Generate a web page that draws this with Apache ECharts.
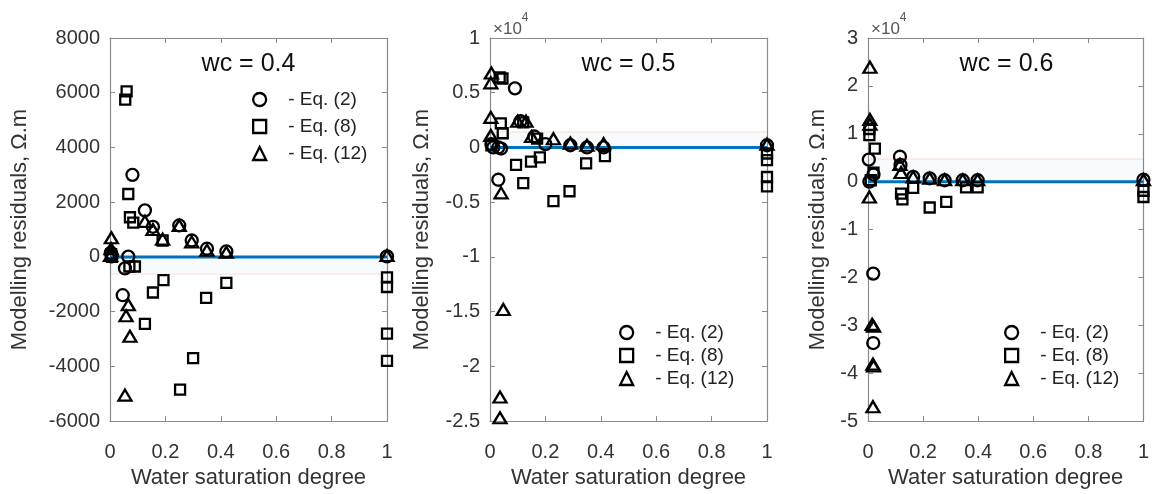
<!DOCTYPE html>
<html>
<head>
<meta charset="utf-8">
<script src="https://cdn.jsdelivr.net/npm/echarts@6/dist/echarts.min.js"></script>
<style>
html,body{margin:0;padding:0;background:#ffffff;}
#chart{width:1152px;height:494px;}
</style>
</head>
<body>
<div id="chart"></div>
<script>
// ---------------- data ----------------
const panelTitles = ['wc = 0.4', 'wc = 0.5', 'wc = 0.6'];
const eqNames = ['Eq. (2)', 'Eq. (8)', 'Eq. (12)'];
const xAxisName = 'Water saturation degree';
const yAxisName = 'Modelling residuals, \u03A9.m';
const xTickValues = [0, 0.2, 0.4, 0.6, 0.8, 1];
const yMinValues = [-6000, -25000, -50000];
const yMaxValues = [8000, 10000, 30000];
const yStepValues = [2000, 5000, 10000];
const yLabelDivisors = [1, 10000, 10000];
const zeroLine = [[0, 0], [1, 0]];
const bandEdges = [-600, 1400, 4800];

// wc = 0.4 : [water saturation, residual Ω.m]
const wc04_eq2 = [[0.003,150],[0.006,20],[0.066,10],[0.054,-420],[0.046,-1400],[0.081,3000],[0.126,1700],[0.155,1100],[0.25,1150],[0.295,600],[0.35,300],[0.42,200],[1,20]];
const wc04_eq8 = [[0.004,100],[0.007,0],[0.06,6050],[0.055,5750],[0.066,2300],[0.072,1450],[0.084,1250],[0.19,600],[0.07,-350],[0.09,-350],[0.193,-850],[0.155,-1300],[0.42,-950],[0.347,-1500],[0.126,-2450],[0.30,-3700],[0.253,-4850],[1,-750],[1,-1100],[1,-2800],[1,-3800]];
const wc04_eq12 = [[0.002,50],[0.004,300],[0.005,700],[0.126,1300],[0.155,1000],[0.19,650],[0.25,1150],[0.295,550],[0.35,250],[0.42,170],[0.066,-1750],[0.058,-2150],[0.072,-2900],[0.054,-5050],[1,50]];

// wc = 0.5
const wc05_eq2 = [[0.005,300],[0.012,0],[0.03,0],[0.04,-100],[0.09,5400],[0.11,2400],[0.16,1000],[0.2,300],[0.29,200],[0.35,0],[0.41,0],[0.03,-2950],[1,200]];
const wc05_eq8 = [[0.035,6400],[0.045,6300],[0.039,2200],[0.046,1300],[0.005,200],[0.12,2300],[0.17,800],[0.094,-1600],[0.148,-1300],[0.18,-900],[0.347,-1450],[0.415,-800],[0.12,-3250],[0.229,-4900],[0.287,-4000],[1,-550],[1,-1150],[1,-2700],[1,-3550]];
const wc05_eq12 = [[0.005,6800],[0.003,5900],[0.003,2750],[0.003,1100],[0.1,2400],[0.13,2400],[0.15,1000],[0.229,800],[0.29,400],[0.35,200],[0.41,350],[0.04,-4150],[0.048,-14800],[0.036,-22800],[0.036,-24700],[1,300]];

// wc = 0.6
const wc06_eq2 = [[0.003,4600],[0.005,0],[0.02,1500],[0.116,5200],[0.118,3500],[0.164,1000],[0.224,700],[0.278,300],[0.344,300],[0.398,300],[0.019,-19200],[0.019,-33700],[1,400]];
const wc06_eq8 = [[0.005,11000],[0.005,9700],[0.025,6900],[0.02,1900],[0.01,300],[0.12,-2500],[0.125,-3700],[0.164,-1300],[0.224,-5400],[0.284,-4200],[0.356,-1200],[0.398,-1200],[1,-1900],[1,-3200]];
const wc06_eq12 = [[0.007,23900],[0.007,13000],[0.007,12000],[0.005,-3200],[0.116,3600],[0.12,1900],[0.164,1000],[0.224,700],[0.278,400],[0.344,400],[0.398,400],[0.015,-29800],[0.02,-30200],[0.018,-38100],[0.02,-38500],[0.018,-47000],[1,400]];

const panelData = [
  [wc04_eq2, wc04_eq8, wc04_eq12],
  [wc05_eq2, wc05_eq8, wc05_eq12],
  [wc06_eq2, wc06_eq8, wc06_eq12]
];

// ---------------- layout & style ----------------
const FONT = '"Liberation Sans", Arial, Helvetica, sans-serif';
const gridLefts = [110, 490, 868];
const gridTop = 38, gridW = 277, gridH = 392;
const yNameGaps = [79, 57, 39];
const legendPos = [
  {left: 252, top: 90, gap: 8},
  {left: 619, top: 323, gap: 4},
  {left: 1004, top: 323, gap: 4}
];
const symbols = ['circle', 'rect', 'triangle'];
const symbolSizes = [12, 10, [13, 11]];
const axisColor = '#8a8a8a';
const labelColor = '#333333';
const markerStyle = {color: 'rgba(255,255,255,0)', borderColor: '#000000', borderWidth: 2.3, opacity: 1};

const grids = [], xAxes = [], yAxes = [], series = [], legends = [], titles = [];

for (let i = 0; i < 3; i++) {
  grids.push({left: gridLefts[i], top: gridTop, width: gridW, height: gridH, containLabel: false});
  const common = {
    gridIndex: i, type: 'value',
    axisLine: {show: true, onZero: false, lineStyle: {color: axisColor, width: 1.2}},
    axisTick: {show: true, inside: true, length: 5, lineStyle: {color: axisColor, width: 1}},
    splitLine: {show: false}
  };
  xAxes.push(Object.assign({}, common, {
    min: xTickValues[0], max: xTickValues[xTickValues.length - 1], interval: xTickValues[1] - xTickValues[0],
    position: 'bottom',
    axisLabel: {show: true, margin: 21, fontSize: 20, color: labelColor, fontFamily: FONT},
    name: xAxisName, nameLocation: 'middle', nameGap: 42,
    nameTextStyle: {fontSize: 22, color: labelColor, fontFamily: FONT}
  }));
  xAxes.push(Object.assign({}, common, {
    min: xTickValues[0], max: xTickValues[xTickValues.length - 1], interval: xTickValues[1] - xTickValues[0],
    position: 'top', axisLabel: {show: false}
  }));
  const div = yLabelDivisors[i];
  yAxes.push(Object.assign({}, common, {
    min: yMinValues[i], max: yMaxValues[i], interval: yStepValues[i],
    position: 'left',
    axisLabel: {show: true, margin: 10, fontSize: 20, color: labelColor, fontFamily: FONT,
      formatter: v => String(Math.round(v / div * 100) / 100)},
    name: yAxisName, nameLocation: 'middle', nameGap: yNameGaps[i],
    nameTextStyle: {fontSize: 22, color: labelColor, fontFamily: FONT}
  }));
  yAxes.push(Object.assign({}, common, {
    min: yMinValues[i], max: yMaxValues[i], interval: yStepValues[i],
    position: 'right', axisLabel: {show: false}
  }));

  // zero reference line (with faint band)
  series.push({
    type: 'line', xAxisIndex: 2 * i, yAxisIndex: 2 * i,
    data: zeroLine, symbol: 'none', silent: true, z: 1,
    lineStyle: {color: '#0072BD', width: 3},
    markArea: {silent: true, itemStyle: {color: 'rgba(0,114,189,0.03)'},
      data: [[{yAxis: 0}, {yAxis: bandEdges[i]}]]},
    markLine: {silent: true, symbol: 'none', label: {show: false},
      lineStyle: {color: 'rgba(217,83,25,0.09)', type: 'solid', width: 2},
      data: [{yAxis: bandEdges[i]}]}
  });
  for (let k = 0; k < 3; k++) {
    series.push({
      name: eqNames[k], type: 'scatter', xAxisIndex: 2 * i, yAxisIndex: 2 * i,
      data: panelData[i][k], symbol: symbols[k], symbolSize: symbolSizes[k],
      itemStyle: markerStyle, z: 3, emphasis: {disabled: true}
    });
  }

  legends.push({
    orient: 'vertical', left: legendPos[i].left, top: legendPos[i].top,
    itemWidth: 13, itemHeight: 13, itemGap: legendPos[i].gap, padding: 0,
    selectedMode: false,
    data: eqNames.map((n, k) => ({name: n, icon: symbols[k], itemStyle: markerStyle})),
    formatter: n => '- ' + n,
    textStyle: {fontSize: 19, color: '#222', fontFamily: FONT, padding: [0, 0, 0, 17]}
  });

  titles.push({
    text: panelTitles[i], left: gridLefts[i] + gridW / 2, top: 52, textAlign: 'center', padding: 0,
    textStyle: {fontSize: 25, fontWeight: 'normal', color: '#111', fontFamily: FONT}
  });
  if (yLabelDivisors[i] !== 1) {
    titles.push({
      text: '{a|\u00D710}{s|4}', left: gridLefts[i] + 3, top: 12, padding: 0,
      textStyle: {fontWeight: 'normal', rich: {
        a: {fontSize: 17, lineHeight: 26, verticalAlign: 'bottom', color: '#555', fontWeight: 'normal', fontFamily: FONT},
        s: {fontSize: 12, lineHeight: 12, verticalAlign: 'top', color: '#555', fontWeight: 'normal', fontFamily: FONT}
      }}
    });
  }
}

const chart = echarts.init(document.getElementById('chart'), null, {renderer: 'canvas'});
chart.setOption({
  animation: false,
  backgroundColor: '#ffffff',
  title: titles,
  legend: legends,
  grid: grids,
  xAxis: xAxes,
  yAxis: yAxes,
  series: series
});
</script>
</body>
</html>
